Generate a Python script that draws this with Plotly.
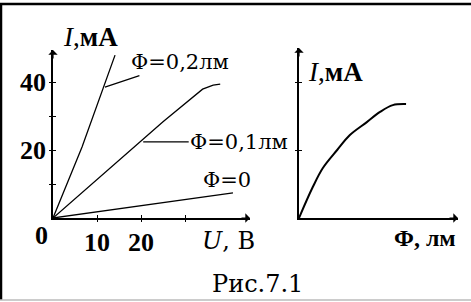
import plotly.graph_objects as go

W, H = 471, 302

# ---- data (left: I-V characteristics, right: light characteristic) ----
u_phi02 = [0, 6.6, 14.1]
i_phi02 = [0, 20.9, 47.9]

u_phi01 = [0, 17.5, 25, 34, 36.4, 38]
i_phi01 = [0, 20, 28.3, 37.9, 39.1, 39.4]

u_phi0 = [0, 40.9]
i_phi0 = [0, 7.4]

phi_vals = [0, 0.026, 0.045, 0.072, 0.096, 0.128, 0.153, 0.177, 0.202]
i_light = [0, 9.1, 14.7, 20, 24.4, 28.2, 31.2, 33.2, 33.5]

u_tickvals = [10, 20, 30]
u_ticktext = ["10", "20", ""]
i_tickvals = [10, 20, 30, 40]
i_ticktext = ["", "20", "", "40"]
i2_tickvals = [20, 40]

XR1 = [0, 44.77]
YR1 = [0, 49.41]
XR2 = [0, 0.3]
YR2 = [0, 50]

SERIF = "Liberation Serif, Times New Roman, serif"
SERIF2 = "DejaVu Serif, serif"

def px(x):
    return x / W

def py(y):
    return 1 - y / H

fig = go.Figure()
line = dict(color="black", width=1.3)
fig.add_trace(go.Scatter(x=u_phi02, y=i_phi02, mode="lines", line=line, xaxis="x", yaxis="y"))
fig.add_trace(go.Scatter(x=u_phi01, y=i_phi01, mode="lines", line=line, xaxis="x", yaxis="y"))
fig.add_trace(go.Scatter(x=u_phi0, y=i_phi0, mode="lines", line=line, xaxis="x", yaxis="y"))
fig.add_trace(go.Scatter(x=phi_vals, y=i_light, mode="lines",
                         line=dict(color="black", width=2, shape="spline"), xaxis="x2", yaxis="y2"))
# invisible traces for overlay tick axes
fig.add_trace(go.Scatter(x=[None], y=[None], xaxis="x", yaxis="y3", showlegend=False))
fig.add_trace(go.Scatter(x=[None], y=[None], xaxis="x3", yaxis="y", showlegend=False))
fig.add_trace(go.Scatter(x=[None], y=[None], xaxis="x2", yaxis="y4", showlegend=False))

tickfont = dict(family=SERIF, size=26, color="black", weight="bold")
base = dict(showgrid=False, zeroline=False, showline=True, linecolor="black", linewidth=1.6,
            ticks="inside", ticklen=3, tickwidth=1.2, tickcolor="black", fixedrange=True)
over = dict(showgrid=False, zeroline=False, showline=False, ticks="outside", ticklen=3,
            tickwidth=1.2, tickcolor="black", showticklabels=False, fixedrange=True)

fig.update_layout(
    width=W, height=H,
    margin=dict(l=0, r=0, t=0, b=0),
    paper_bgcolor="white", plot_bgcolor="rgba(0,0,0,0)",
    showlegend=False,
    xaxis=dict(base, domain=[px(53), px(250)], range=XR1, anchor="y",
               tickvals=u_tickvals, ticktext=u_ticktext, tickfont=tickfont),
    yaxis=dict(base, domain=[py(218), py(50)], range=YR1, anchor="x",
               tickvals=i_tickvals, ticktext=i_ticktext, tickfont=tickfont),
    xaxis2=dict(base, domain=[px(299), px(458)], range=XR2, anchor="y2",
                ticks="", showticklabels=False),
    yaxis2=dict(base, domain=[py(218), py(48)], range=YR2, anchor="x2",
                tickvals=i2_tickvals, showticklabels=False),
    xaxis3=dict(over, overlaying="x", range=XR1, anchor="y", tickvals=u_tickvals),
    yaxis3=dict(over, overlaying="y", range=YR1, anchor="x", tickvals=i_tickvals),
    yaxis4=dict(over, overlaying="y2", range=YR2, anchor="x2", tickvals=i2_tickvals),
)

ann = []
# axis arrows
for xr, yr, xa, ya in [(XR1, YR1, "x", "y"), (XR2, YR2, "x2", "y2")]:
    ann.append(dict(x=xr[1], y=0, xref=xa, yref=ya, ax=-10, ay=0, text="", showarrow=True,
                    arrowhead=1, arrowsize=1.3, arrowwidth=1.2, arrowcolor="black", standoff=0))
    ann.append(dict(x=0, y=yr[1], xref=xa, yref=ya, ax=0, ay=10, text="", showarrow=True,
                    arrowhead=1, arrowsize=1.3, arrowwidth=1.2, arrowcolor="black", standoff=0))

def label(text, cx, cy, size=22, weight="normal", family=SERIF2):
    ann.append(dict(x=px(cx), y=py(cy), xref="paper", yref="paper", text=text, showarrow=False,
                    xanchor="center", yanchor="middle",
                    font=dict(family=family, size=size, color="black", weight=weight)))

label("<i>I</i>,<b>мА</b>", 90, 37, size=27, family=SERIF)
label("<i>I</i>,<b>мА</b>", 335, 72, size=27, family=SERIF)
label("Φ=0", 227, 180, size=21)
label("<i>U</i>, В", 228, 241, size=24)
label("Φ, лм", 425, 238, size=24, weight="bold", family=SERIF)
label("Рис.7.1", 257, 284, size=24)
label("0", 41, 235, size=26, weight="bold", family=SERIF)

# callout labels with leader lines
ann.append(dict(x=11.8, y=38.5, xref="x", yref="y", ax=75, ay=-25, text="Φ=0,2лм",
                showarrow=True, arrowhead=0, arrowwidth=1.2, arrowcolor="black",
                font=dict(family=SERIF2, size=21, color="black")))
ann.append(dict(x=20.5, y=22.4, xref="x", yref="y", ax=96, ay=0, text="Φ=0,1лм",
                showarrow=True, arrowhead=0, arrowwidth=1.2, arrowcolor="black",
                font=dict(family=SERIF2, size=21, color="black")))
fig.update_layout(annotations=ann)

# frame of the figure
fig.update_layout(shapes=[
    dict(type="line", xref="paper", yref="paper", x0=0, x1=1, y0=py(4), y1=py(4),
         line=dict(color="black", width=2.5)),
    dict(type="line", xref="paper", yref="paper", x0=px(1), x1=px(1), y0=py(300), y1=py(4),
         line=dict(color="black", width=2.5)),
    dict(type="line", xref="paper", yref="paper", x0=0, x1=1, y0=py(300), y1=py(300),
         line=dict(color="#bbbbbb", width=1.5)),
])

fig.write_html("out.html", config={"displayModeBar": False},
               post_script="document.body.style.margin='0';document.body.style.overflow='hidden';")
